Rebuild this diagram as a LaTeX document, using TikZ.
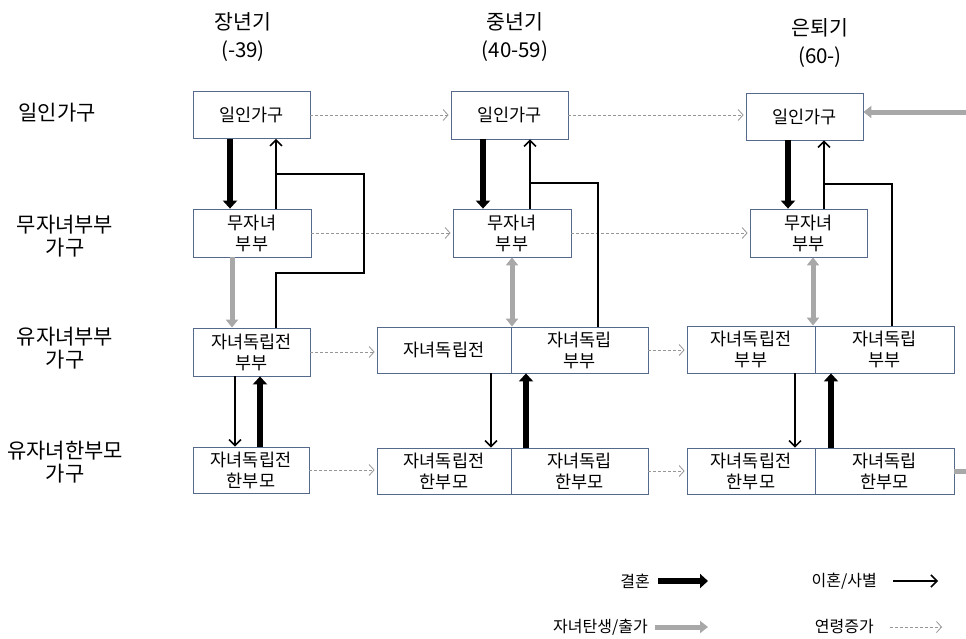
\documentclass[tikz,border=0pt]{standalone}
\usepackage{fontspec}
\setmainfont{Noto Sans CJK KR}
\usetikzlibrary{arrows.meta,calc}
\definecolor{boxline}{RGB}{85,105,140}
\definecolor{birthgray}{RGB}{168,168,168}
\definecolor{agegray}{RGB}{150,150,150}
\begin{document}
\begin{tikzpicture}[x=1pt,y=-1pt,
  hbox/.style={draw=boxline,line width=0.8pt,inner sep=0pt,align=center,font=\fontsize{17.5}{21}\selectfont},
  hdr/.style={align=center,inner sep=0pt,font=\fontsize{20.5}{28}\selectfont},
  rowlbl/.style={align=center,inner sep=0pt,font=\fontsize{21}{23}\selectfont},
  lgd/.style={inner sep=0pt,font=\fontsize{16}{18}\selectfont},
  marr/.style={line width=6pt,-{Triangle[length=8pt,width=14pt]}},
  divl/.style={line width=1.5pt},
  div/.style={line width=1.5pt,-{Straight Barb[length=6pt,width=12pt,line width=1.5pt]}},
  birth/.style={draw=birthgray,line width=5pt,-{Triangle[length=8pt,width=12pt]}},
  birthboth/.style={draw=birthgray,line width=5pt,{Triangle[length=8pt,width=12pt]}-{Triangle[length=8pt,width=12pt]}},
  age/.style={draw=agegray,line width=0.8pt,dash pattern=on 3pt off 2pt,shorten >=2pt,-{Straight Barb[length=5pt,width=11pt,line width=0.8pt]}},
]
\useasboundingbox (0,0) rectangle (966,638);

% headers
\node[hdr] (h1) at (243,37) {장년기\\(-39)};
\node[hdr] (h2) at (515,37) {중년기\\(40-59)};
\node[hdr] (h3) at (820,43) {은퇴기\\(60-)};

% row labels
\node[rowlbl] (r1) at (57,113) {일인가구};
\node[rowlbl] (r2) at (65,236) {무자녀부부\\가구};
\node[rowlbl] (r3) at (65,348) {유자녀부부\\가구};
\node[rowlbl] (r4) at (65,462) {유자녀한부모\\가구};

% column 1
\node[hbox,minimum width=117pt,minimum height=47pt] (a1) at (251.5,115) {일인가구};
\node[hbox,minimum width=118pt,minimum height=48pt] (b1) at (252,233) {무자녀\\부부};
\node[hbox,minimum width=117pt,minimum height=48pt] (c1) at (251.5,352) {자녀독립전\\부부};
\node[hbox,minimum width=116pt,minimum height=46pt] (d1) at (251,470) {자녀독립전\\한부모};

% column 2
\node[hbox,minimum width=117pt,minimum height=48pt] (a2) at (509.5,115) {일인가구};
\node[hbox,minimum width=118pt,minimum height=48pt] (b2) at (512,233) {무자녀\\부부};
\node[hbox,minimum width=134pt,minimum height=46pt] (c2L) at (444,350) {자녀독립전};
\node[hbox,minimum width=137pt,minimum height=46pt] (c2R) at (579.5,350) {자녀독립\\부부};
\node[hbox,minimum width=134pt,minimum height=46pt] (d2L) at (444,471) {자녀독립전\\한부모};
\node[hbox,minimum width=137pt,minimum height=46pt] (d2R) at (579.5,471) {자녀독립\\한부모};

% column 3
\node[hbox,minimum width=117pt,minimum height=47pt] (a3) at (804.5,116.5) {일인가구};
\node[hbox,minimum width=117pt,minimum height=48pt] (b3) at (808.5,233) {무자녀\\부부};
\node[hbox,minimum width=128pt,minimum height=47pt] (c3L) at (751,349.5) {자녀독립전\\부부};
\node[hbox,minimum width=139pt,minimum height=47pt] (c3R) at (884.5,349.5) {자녀독립\\부부};
\node[hbox,minimum width=128pt,minimum height=46pt] (d3L) at (751,471) {자녀독립전\\한부모};
\node[hbox,minimum width=139pt,minimum height=46pt] (d3R) at (884.5,471) {자녀독립\\한부모};

% ageing (dashed)
\draw[age] (a1.east) -- (a1.east -| a2.west);
\draw[age] (b1.east) -- (b1.east -| b2.west);
\draw[age] (c1.east) -- (c1.east -| c2L.west);
\draw[age] (d1.east) -- (d1.east -| d2L.west);
\draw[age] (a2.east) -- (a2.east -| a3.west);
\draw[age] (b2.east) -- (b2.east -| b3.west);
\draw[age] (c2R.east) -- (c2R.east -| c3L.west);
\draw[age] (d2R.east) -- (d2R.east -| d3L.west);

% column 1 transitions
\draw[marr] ([xshift=-21.5pt]a1.south) -- ([xshift=-21.5pt]a1.south |- b1.north);
\draw[div] ([xshift=24pt]b1.north) -- ([xshift=24pt]b1.north |- a1.south);
\coordinate (k1a) at (364,273);
\coordinate (k1b) at (276,174);
\draw[divl] ([xshift=24.5pt]c1.north) |- (k1a) |- (k1b);
\draw[birth] ([xshift=-20pt]b1.south) -- ([xshift=-20pt]b1.south |- c1.north);
\draw[div] ([xshift=-16.5pt]c1.south) -- ([xshift=-16.5pt]c1.south |- d1.north);
\draw[marr] ([xshift=9pt]d1.north) -- ([xshift=9pt]d1.north |- c1.south);

% column 2 transitions
\draw[marr] ([xshift=-26.5pt]a2.south) -- ([xshift=-26.5pt]a2.south |- b2.north);
\draw[div] ([xshift=18pt]b2.north) -- ([xshift=18pt]b2.north |- a2.south);
\coordinate (k2) at (530,183);
\draw[divl] ([xshift=18.5pt]c2R.north) |- (k2);
\draw[birthboth] (b2.south) -- (b2.south |- c2L.north);
\draw[div] ([xshift=47pt]c2L.south) -- ([xshift=47pt]c2L.south |- d2L.north);
\draw[marr] ([xshift=-53.5pt]d2R.north) -- ([xshift=-53.5pt]d2R.north |- c2R.south);

% column 3 transitions
\draw[marr] ([xshift=-16.5pt]a3.south) -- ([xshift=-16.5pt]a3.south |- b3.north);
\draw[div] ([xshift=15.5pt]b3.north) -- ([xshift=15.5pt]b3.north |- a3.south);
\coordinate (k3) at (824,184);
\draw[divl] ([xshift=7.5pt]c3R.north) |- (k3);
\draw[birthboth] ([xshift=4.5pt]b3.south) -- ([xshift=4.5pt]b3.south |- c3L.north);
\draw[div] ([xshift=44pt]c3L.south) -- ([xshift=44pt]c3L.south |- d3L.north);
\draw[marr] ([xshift=-53.5pt]d3R.north) -- ([xshift=-53.5pt]d3R.north |- c3R.south);
\draw[birth] (d3R.east) -- ++(22,0) |- ([yshift=4.5pt]a3.east);

% legend
\node[lgd,anchor=east] (l1) at (650,581) {결혼};
\coordinate (l1a) at (658,581); \coordinate (l1b) at (708,581);
\draw[marr] (l1a) -- (l1b);
\node[lgd,anchor=east] (l2) at (877,581) {이혼/사별};
\coordinate (l2a) at (893,581); \coordinate (l2b) at (938,581);
\draw[div] (l2a) -- (l2b);
\node[lgd,anchor=east] (l3) at (648,627) {자녀탄생/출가};
\coordinate (l3a) at (655,627); \coordinate (l3b) at (708,627);
\draw[birth] (l3a) -- (l3b);
\node[lgd,anchor=east] (l4) at (874,627) {연령증가};
\coordinate (l4a) at (890,627); \coordinate (l4b) at (942,627);
\draw[age,shorten >=0pt] (l4a) -- (l4b);
\end{tikzpicture}
\end{document}
